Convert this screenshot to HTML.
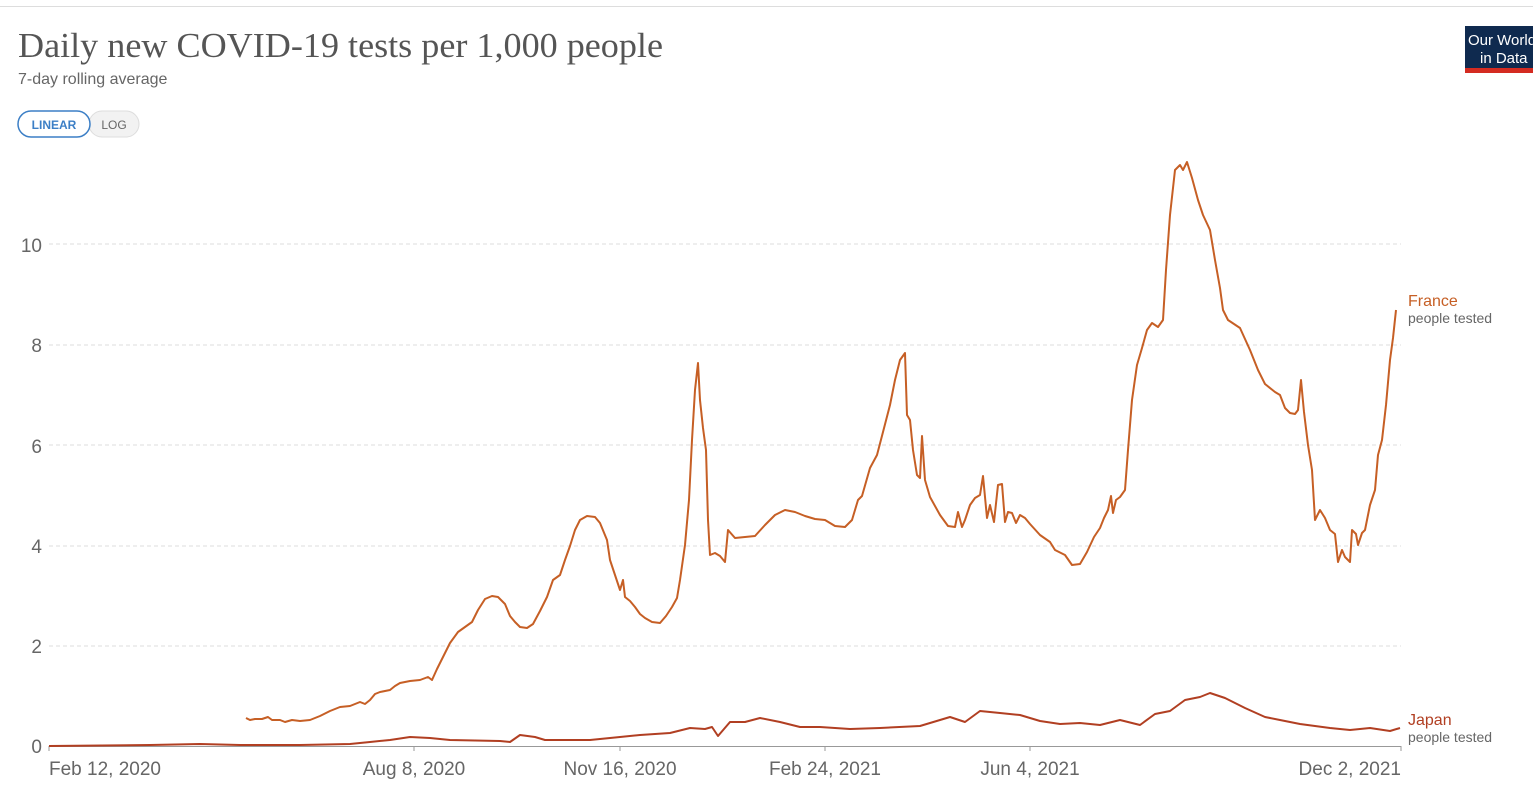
<!DOCTYPE html>
<html><head><meta charset="utf-8"><style>
html,body{margin:0;padding:0;background:#fff;width:1533px;height:796px;overflow:hidden;}
</style></head><body>
<svg width="1533" height="796" xmlns="http://www.w3.org/2000/svg" font-family="Liberation Sans, sans-serif">
<line x1="0" y1="6.5" x2="1533" y2="6.5" stroke="#ddd"/>
<text x="18" y="57" font-family="Liberation Serif, serif" font-size="35" fill="#555" textLength="645" lengthAdjust="spacingAndGlyphs">Daily new COVID-19 tests per 1,000 people</text>
<text x="18" y="84" font-size="16" fill="#666">7-day rolling average</text>
<rect x="89" y="111" width="50" height="26" rx="13" fill="#f2f2f2" stroke="#ddd"/>
<rect x="18" y="111" width="72" height="26" rx="13" fill="#fff" stroke="#3c7fc6" stroke-width="1.5"/>
<text x="54" y="129" font-size="12" fill="#3c7fc6" text-anchor="middle" font-weight="bold">LINEAR</text>
<text x="114" y="129" font-size="12" fill="#666" text-anchor="middle">LOG</text>
<rect x="1465" y="26" width="68" height="47" fill="#0f2a4f"/>
<rect x="1465" y="68" width="68" height="5" fill="#d42b21"/>
<text x="1468" y="45" font-size="15" fill="#fff">Our World</text>
<text x="1480" y="63" font-size="15" fill="#fff">in Data</text>
<g stroke="#ddd" stroke-dasharray="4,3">
<line x1="49" y1="244" x2="1401" y2="244"/><line x1="49" y1="345" x2="1401" y2="345"/>
<line x1="49" y1="445" x2="1401" y2="445"/><line x1="49" y1="546" x2="1401" y2="546"/>
<line x1="49" y1="646" x2="1401" y2="646"/>
</g>
<line x1="49" y1="746.5" x2="1401" y2="746.5" stroke="#999"/>
<g stroke="#999"><line x1="49" y1="746" x2="49" y2="751"/><line x1="414" y1="746" x2="414" y2="751"/><line x1="620" y1="746" x2="620" y2="751"/><line x1="825" y1="746" x2="825" y2="751"/><line x1="1030" y1="746" x2="1030" y2="751"/><line x1="1401" y1="746" x2="1401" y2="751"/></g>
<g font-size="19" fill="#666" text-anchor="end">
<text x="42" y="252">10</text><text x="42" y="352">8</text><text x="42" y="453">6</text><text x="42" y="553">4</text><text x="42" y="653">2</text><text x="42" y="753">0</text>
</g>
<g font-size="19" fill="#666">
<text x="49" y="775">Feb 12, 2020</text><text x="414" y="775" text-anchor="middle">Aug 8, 2020</text>
<text x="620" y="775" text-anchor="middle">Nov 16, 2020</text><text x="825" y="775" text-anchor="middle">Feb 24, 2021</text>
<text x="1030" y="775" text-anchor="middle">Jun 4, 2021</text><text x="1401" y="775" text-anchor="end">Dec 2, 2021</text>
</g>
<polyline fill="none" stroke="#c65f25" stroke-width="2" stroke-linejoin="round" points="246,718 250,720 255,719 262,719 268,717 272,720 280,720 285,722 292,720 300,721 310,720 320,716 330,711 340,707 350,706 360,702 365,704 370,700 375,694 380,692 390,690 395,686 400,683 410,681 420,680 428,677 432,680 437,669 443,657 450,643 458,632 465,627 472,622 478,610 485,599 492,596 498,597 505,604 510,616 515,622 520,627 527,628 533,624 540,611 547,597 553,580 560,575 565,560 570,546 575,530 580,520 587,516 595,517 600,523 607,540 610,560 615,575 620,590 623,580 625,597 630,601 635,607 640,614 645,618 652,622 660,623 666,616 672,607 677,598 680,580 685,545 689,500 692,440 695,390 698,363 700,400 703,428 706,450 708,520 710,555 715,553 720,556 725,562 728,530 735,538 745,537 755,536 765,525 775,515 785,510 795,512 805,516 815,519 825,520 835,526 845,527 852,520 858,500 862,496 870,468 877,455 883,432 890,405 895,380 900,360 905,353 907,415 910,420 913,450 917,475 920,478 922,436 925,480 930,497 940,515 948,526 955,527 958,512 962,527 965,520 970,505 975,498 980,495 983,476 987,518 990,505 994,522 998,485 1002,484 1005,522 1008,512 1012,513 1016,523 1020,515 1025,518 1030,524 1040,535 1050,542 1055,550 1065,555 1072,565 1080,564 1087,552 1094,537 1100,528 1104,518 1108,510 1111,496 1113,513 1116,500 1120,497 1125,490 1128,450 1132,400 1137,365 1142,348 1147,330 1152,323 1158,327 1163,320 1166,270 1170,215 1175,170 1180,165 1183,170 1187,162 1192,178 1198,200 1203,215 1210,230 1215,260 1220,288 1223,310 1228,320 1240,328 1250,350 1258,370 1265,384 1275,392 1280,395 1285,408 1290,413 1295,414 1298,410 1301,380 1304,412 1308,445 1312,470 1315,520 1320,510 1325,518 1330,530 1335,534 1338,562 1342,550 1345,557 1350,562 1352,530 1356,534 1358,545 1362,533 1365,530 1370,505 1375,490 1378,455 1382,440 1386,405 1390,360 1393,338 1396,310"/>
<polyline fill="none" stroke="#b13f22" stroke-width="2" stroke-linejoin="round" points="49,746 150,745 200,744 240,745 300,745 350,744 370,742 390,740 410,737 430,738 450,740 500,741 510,742 520,735 535,737 545,740 590,740 620,737 640,735 670,733 690,728 705,729 712,727 718,736 730,722 745,722 760,718 780,722 800,727 820,727 850,729 880,728 920,726 950,717 965,722 980,711 1000,713 1020,715 1040,721 1060,724 1080,723 1100,725 1120,720 1140,725 1155,714 1170,711 1185,700 1200,697 1210,693 1225,698 1245,708 1265,717 1280,720 1300,724 1330,728 1350,730 1370,728 1390,731 1400,728"/>
<text x="1408" y="306" font-size="16" fill="#c65f25">France</text>
<text x="1408" y="323" font-size="14" fill="#666">people tested</text>
<text x="1408" y="725" font-size="16" fill="#b13f22">Japan</text>
<text x="1408" y="742" font-size="14" fill="#666">people tested</text>
</svg>
</body></html>
